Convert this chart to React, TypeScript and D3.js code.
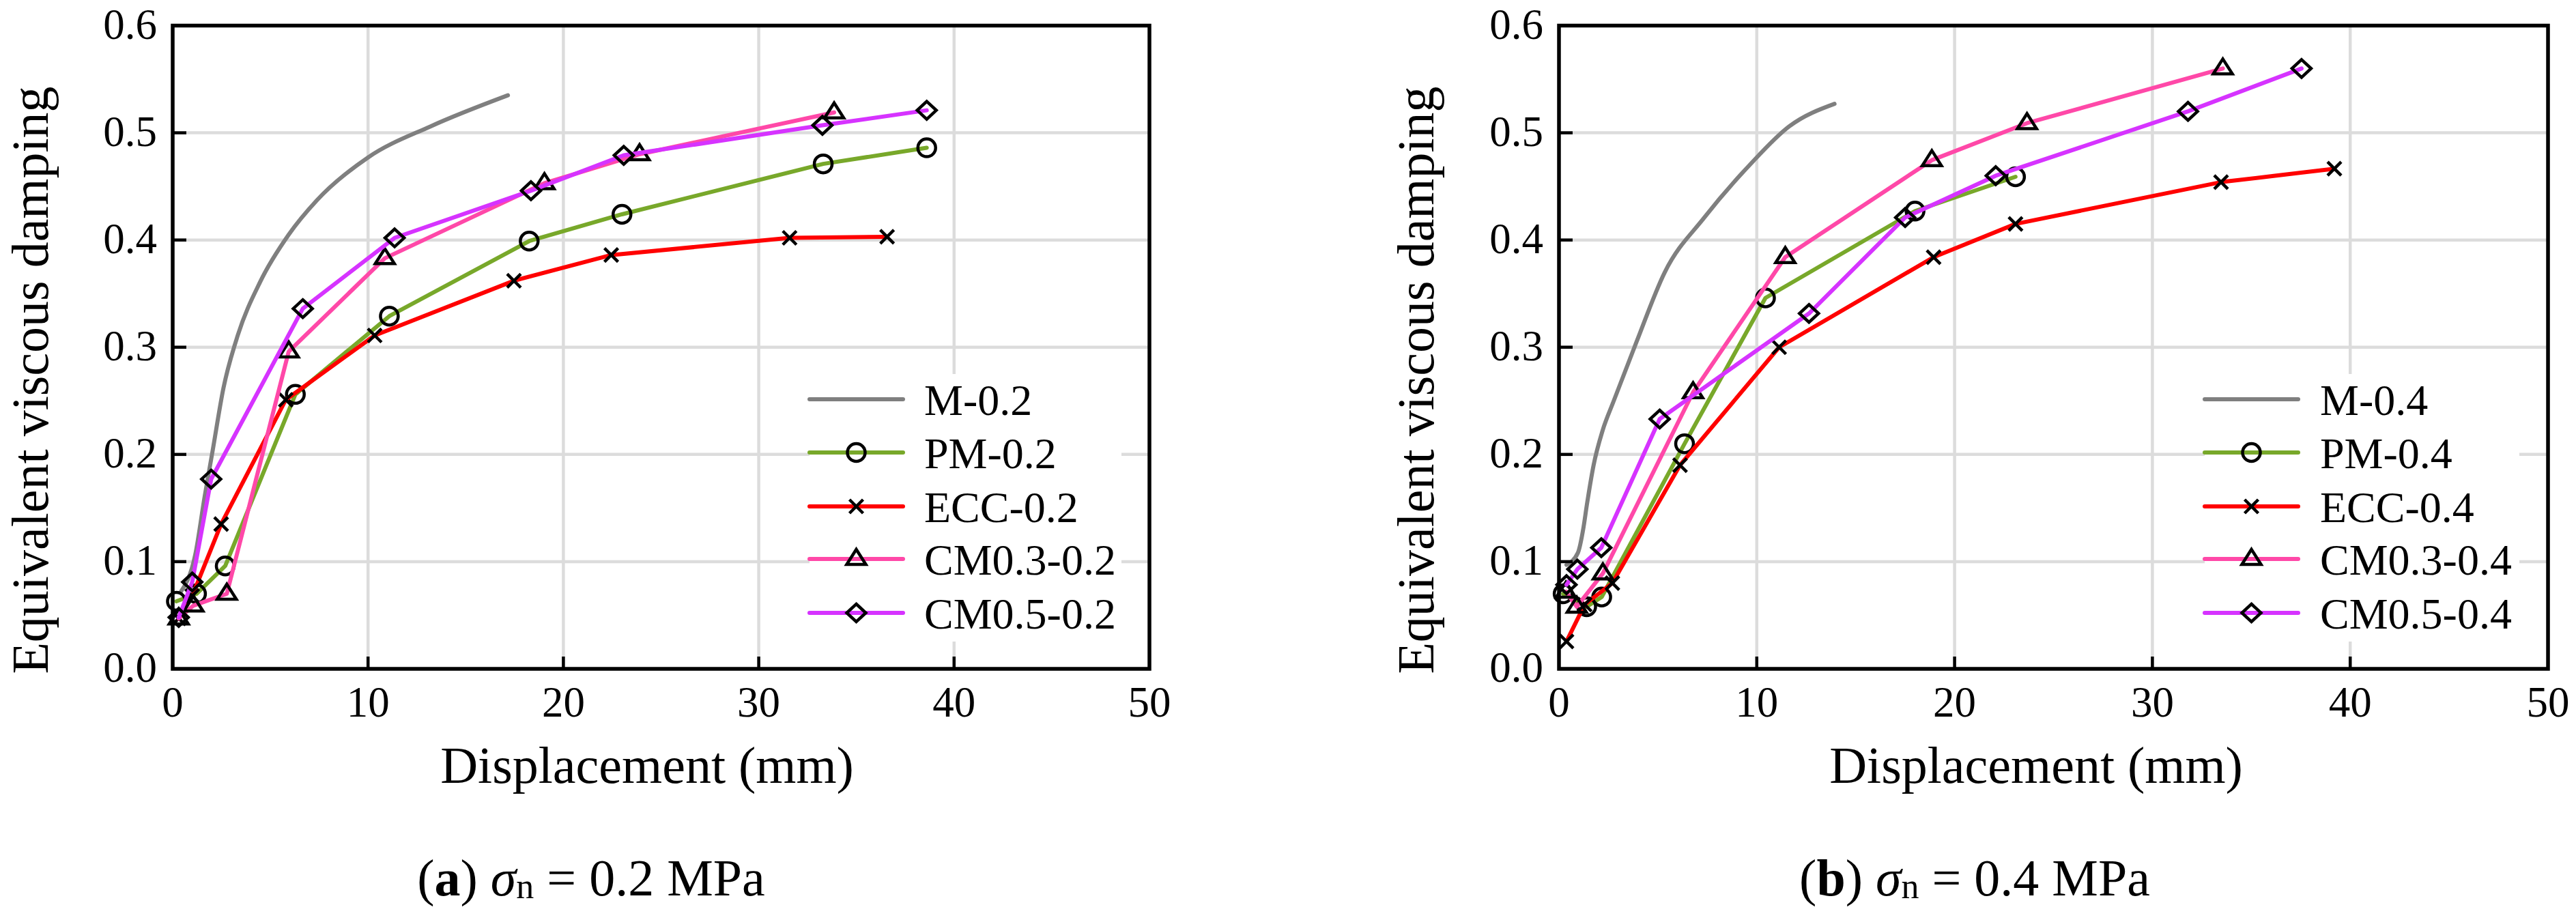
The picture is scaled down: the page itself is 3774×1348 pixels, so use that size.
import * as d3 from "d3";
import { useEffect, useRef } from "react";

type Pt = [number, number];

// axis ticks
const X_TICKS = [0, 10, 20, 30, 40, 50];
const Y_TICKS = [0, 0.1, 0.2, 0.3, 0.4, 0.5, 0.6];

// (a) sigma_n = 0.2 MPa  -- [displacement mm, damping]
const M_02: Pt[] = [
  [0.42, 0.072], [1.15, 0.106], [1.64, 0.161], [2.05, 0.204], [2.6, 0.262],
  [3.33, 0.311], [4.48, 0.361], [5.94, 0.405], [7.38, 0.437], [10.0, 0.477],
  [13.2, 0.506], [17.16, 0.535],
];
const PM_02: Pt[] = [
  [0.19, 0.063], [1.22, 0.07], [2.69, 0.096], [6.28, 0.256], [11.09, 0.329],
  [18.25, 0.399], [23.0, 0.424], [33.3, 0.471], [38.6, 0.486],
];
const ECC_02: Pt[] = [
  [0.31, 0.047], [1.0, 0.068], [2.48, 0.135], [5.79, 0.251], [10.34, 0.311],
  [17.47, 0.362], [22.45, 0.386], [31.58, 0.402], [36.57, 0.403],
];
const CM03_02: Pt[] = [
  [0.31, 0.047], [1.06, 0.059], [2.77, 0.07], [5.94, 0.296], [10.86, 0.383],
  [19.03, 0.453], [23.9, 0.48], [33.86, 0.519],
];
const CM05_02: Pt[] = [
  [0.31, 0.048], [1.0, 0.081], [1.97, 0.177], [6.66, 0.336], [11.36, 0.402],
  [18.34, 0.446], [23.09, 0.479], [33.26, 0.507], [38.6, 0.521],
];

// (b) sigma_n = 0.4 MPa
const M_04: Pt[] = [
  [0.38, 0.097], [0.95, 0.108], [1.24, 0.132], [1.41, 0.153], [1.75, 0.19],
  [2.2, 0.222], [2.77, 0.25], [3.92, 0.305], [5.35, 0.37], [7.35, 0.421],
  [9.64, 0.47], [11.64, 0.506], [13.93, 0.527],
];
const PM_04: Pt[] = [
  [0.21, 0.07], [1.4, 0.058], [2.16, 0.067], [6.35, 0.21], [10.44, 0.346],
  [18.0, 0.427], [23.08, 0.459],
];
const ECC_04: Pt[] = [
  [0.38, 0.0255], [1.3, 0.06], [2.7, 0.08], [6.12, 0.19], [11.13, 0.3],
  [18.94, 0.384], [23.08, 0.415], [33.47, 0.454], [39.2, 0.4665],
];
const CM03_04: Pt[] = [
  [0.35, 0.072], [0.9, 0.058], [2.22, 0.089], [6.78, 0.258], [11.44, 0.384],
  [18.85, 0.4745], [23.66, 0.509], [33.56, 0.56],
];
const CM05_04: Pt[] = [
  [0.38, 0.0785], [0.93, 0.093], [2.14, 0.113], [5.09, 0.233], [12.64, 0.3315],
  [17.5, 0.421], [22.08, 0.46], [31.8, 0.52], [37.54, 0.56],
];

const NAMES_A = ["M-0.2", "PM-0.2", "ECC-0.2", "CM0.3-0.2", "CM0.5-0.2"];
const NAMES_B = ["M-0.4", "PM-0.4", "ECC-0.4", "CM0.3-0.4", "CM0.5-0.4"];

// style per series index: M, PM, ECC, CM0.3, CM0.5
const COLORS = ["#7f7f7f", "#78a82a", "#ff0000", "#ff48a8", "#d633ff"];
const MARKERS = ["none", "circle", "cross", "triangle", "diamond"];

const W = 3774;
const H = 1348;
const TOP = 37.5;
const BOTTOM = 980;
const FONT = '"Liberation Serif", "DejaVu Serif", serif';

const PANELS = [
  {
    left: 253, right: 1684, yTitleX: 70, xTitleCx: 948, captionCx: 866,
    legLine: [1186, 1323], legText: 1354, legBox: [1186, 1643],
    label: "a", stress: "0.2", names: NAMES_A,
    series: [M_02, PM_02, ECC_02, CM03_02, CM05_02],
  },
  {
    left: 2284, right: 3733, yTitleX: 2100, xTitleCx: 2983, captionCx: 2893,
    legLine: [3230, 3367], legText: 3399, legBox: [3230, 3691],
    label: "b", stress: "0.4", names: NAMES_B,
    series: [M_04, PM_04, ECC_04, CM03_04, CM05_04],
  },
];

const LEG_ROWS = [585, 663, 742, 819, 898];

function markerPath(kind: string): string {
  switch (kind) {
    case "circle": {
      const p = d3.path();
      p.arc(0, 0, 13, 0, Math.PI * 2);
      return p.toString();
    }
    case "cross":
      return "M-10,-10L10,10M-10,10L10,-10";
    case "triangle":
      return "M0,-14L14,8L-14,8Z";
    case "diamond":
      return "M0,-13L14,0L0,13L-14,0Z";
    default:
      return "";
  }
}

export default function App() {
  const ref = useRef<SVGSVGElement>(null);

  useEffect(() => {
    if (!ref.current) return;
    const svg = d3.select(ref.current);
    svg.selectAll("*").remove();
    svg.append("rect").attr("width", W).attr("height", H).attr("fill", "#fff");

    for (const p of PANELS) {
      const x = d3.scaleLinear().domain([0, 50]).range([p.left, p.right]);
      const y = d3.scaleLinear().domain([0, 0.6]).range([BOTTOM, TOP]);
      const g = svg.append("g");

      // grid
      g.selectAll(".vg")
        .data(X_TICKS.slice(1, -1))
        .enter()
        .append("line")
        .attr("x1", (d) => x(d))
        .attr("x2", (d) => x(d))
        .attr("y1", TOP)
        .attr("y2", BOTTOM)
        .attr("stroke", "#dcdcdc")
        .attr("stroke-width", 4.5);
      g.selectAll(".hg")
        .data(Y_TICKS.slice(1, -1))
        .enter()
        .append("line")
        .attr("x1", p.left)
        .attr("x2", p.right)
        .attr("y1", (d) => y(d))
        .attr("y2", (d) => y(d))
        .attr("stroke", "#dcdcdc")
        .attr("stroke-width", 4.5);

      // legend background hides the grid behind it
      g.append("rect")
        .attr("x", p.legBox[0])
        .attr("y", 548)
        .attr("width", p.legBox[1] - p.legBox[0])
        .attr("height", 392)
        .attr("fill", "#fff");

      // series
      p.series.forEach((data, i) => {
        const line = d3
          .line<Pt>()
          .x((d) => x(d[0]))
          .y((d) => y(d[1]))
          .curve(i === 0 ? d3.curveMonotoneX : d3.curveLinear);
        g.append("path")
          .attr("d", line(data))
          .attr("fill", "none")
          .attr("stroke", COLORS[i])
          .attr("stroke-width", 6)
          .attr("stroke-linejoin", "round")
          .attr("stroke-linecap", "round");
        if (MARKERS[i] !== "none") {
          g.selectAll(null)
            .data(data)
            .enter()
            .append("path")
            .attr("transform", (d) => `translate(${x(d[0])},${y(d[1])})`)
            .attr("d", markerPath(MARKERS[i]))
            .attr("fill", "none")
            .attr("stroke", "#000")
            .attr("stroke-width", 4.5);
        }
      });

      // legend
      p.names.forEach((name, i) => {
        const ly = LEG_ROWS[i];
        g.append("line")
          .attr("x1", p.legLine[0])
          .attr("x2", p.legLine[1])
          .attr("y1", ly)
          .attr("y2", ly)
          .attr("stroke", COLORS[i])
          .attr("stroke-width", 6)
          .attr("stroke-linecap", "round");
        if (MARKERS[i] !== "none") {
          g.append("path")
            .attr("transform", `translate(${(p.legLine[0] + p.legLine[1]) / 2},${ly})`)
            .attr("d", markerPath(MARKERS[i]))
            .attr("fill", "none")
            .attr("stroke", "#000")
            .attr("stroke-width", 4.5);
        }
        g.append("text")
          .attr("x", p.legText)
          .attr("y", ly + 23)
          .attr("font-family", FONT)
          .attr("font-size", 64)
          .text(name);
      });

      // frame
      g.append("rect")
        .attr("x", p.left)
        .attr("y", TOP)
        .attr("width", p.right - p.left)
        .attr("height", BOTTOM - TOP)
        .attr("fill", "none")
        .attr("stroke", "#000")
        .attr("stroke-width", 5.5);

      // inner ticks
      g.selectAll(".xt")
        .data(X_TICKS.slice(1, -1))
        .enter()
        .append("line")
        .attr("x1", (d) => x(d))
        .attr("x2", (d) => x(d))
        .attr("y1", BOTTOM)
        .attr("y2", BOTTOM - 18)
        .attr("stroke", "#000")
        .attr("stroke-width", 4.5);
      g.selectAll(".yt")
        .data(Y_TICKS.slice(1, -1))
        .enter()
        .append("line")
        .attr("x1", p.left)
        .attr("x2", p.left + 20)
        .attr("y1", (d) => y(d))
        .attr("y2", (d) => y(d))
        .attr("stroke", "#000")
        .attr("stroke-width", 4.5);

      // tick labels
      g.selectAll(".xl")
        .data(X_TICKS)
        .enter()
        .append("text")
        .attr("x", (d) => x(d))
        .attr("y", 1050)
        .attr("text-anchor", "middle")
        .attr("font-family", FONT)
        .attr("font-size", 63)
        .text((d) => String(d));
      g.selectAll(".yl")
        .data(Y_TICKS)
        .enter()
        .append("text")
        .attr("x", p.left - 23)
        .attr("y", (d) => y(d) + 19)
        .attr("text-anchor", "end")
        .attr("font-family", FONT)
        .attr("font-size", 63)
        .text((d) => d3.format(".1f")(d));

      // axis titles
      g.append("text")
        .attr("transform", `translate(${p.yTitleX},557) rotate(-90)`)
        .attr("text-anchor", "middle")
        .attr("font-family", FONT)
        .attr("font-size", 76)
        .text("Equivalent viscous damping");
      g.append("text")
        .attr("x", p.xTitleCx)
        .attr("y", 1147)
        .attr("text-anchor", "middle")
        .attr("font-family", FONT)
        .attr("font-size", 76)
        .text("Displacement (mm)");

      // caption
      const cap = g
        .append("text")
        .attr("x", p.captionCx)
        .attr("y", 1312)
        .attr("text-anchor", "middle")
        .attr("font-family", FONT)
        .attr("font-size", 76)
        .style("white-space", "pre");
      cap.append("tspan").text("(");
      cap.append("tspan").attr("font-weight", "bold").text(p.label);
      cap.append("tspan").text(") ");
      cap.append("tspan").attr("font-style", "italic").text("σ");
      cap.append("tspan").attr("font-size", 52).attr("dy", 4).text("n");
      cap.append("tspan").attr("dy", -4).text(` = ${p.stress} MPa`);
    }
  }, []);

  return (
    <svg
      ref={ref}
      width={W}
      height={H}
      style={{ position: "absolute", left: 0, top: 0, display: "block" }}
    />
  );
}
